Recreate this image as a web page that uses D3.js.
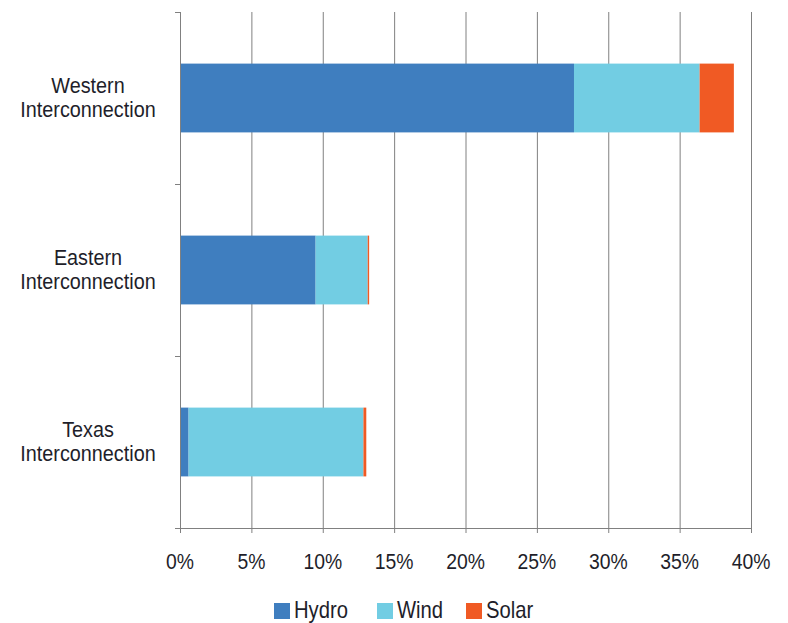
<!DOCTYPE html>
<html><head><meta charset="utf-8">
<script src="https://cdn.jsdelivr.net/npm/d3@7"></script>
<style>body{margin:0;background:#fff}svg{display:block}text{font-family:"Liberation Sans",Arial,sans-serif;fill:#1e1e2a}</style>
</head><body>
<script>
const categories = ["Western Interconnection","Eastern Interconnection","Texas Interconnection"];
const series = ["Hydro","Wind","Solar"];
const hydro = [27.6, 9.5, 0.6];
const wind = [8.8, 3.65, 12.25];
const solar = [2.4, 0.1, 0.2];
const xTicks = [0,5,10,15,20,25,30,35,40];
const colors = ["#3f7ebf","#72cde3","#f05a24"];

const W=788,H=623;
const m={left:180,right:37,top:12,bottom:95};
const SX=0.88;
const svg=d3.select("body").append("svg").attr("width",W).attr("height",H);
const x=d3.scaleLinear().domain([0,40]).range([m.left,W-m.right]);
const y=d3.scaleBand().domain(categories).range([m.top,H-m.bottom]).paddingInner(0.6).paddingOuter(0.3);
const yb=d3.scaleBand().domain(categories).range([m.top,H-m.bottom]);

// gridlines
svg.append("g").selectAll("line").data(xTicks.slice(1)).join("line")
 .attr("x1",d=>x(d)+0.5).attr("x2",d=>x(d)+0.5).attr("y1",m.top).attr("y2",H-m.bottom+5)
 .attr("stroke","#808080").attr("stroke-width",1);

const rows=categories.map((c,i)=>({cat:c,Hydro:hydro[i],Wind:wind[i],Solar:solar[i]}));
const stack=d3.stack().keys(series)(rows);
svg.append("g").selectAll("g").data(stack).join("g").attr("fill",(d,i)=>colors[i])
 .selectAll("rect").data(d=>d).join("rect")
 .attr("x",d=>x(d[0])).attr("width",d=>x(d[1])-x(d[0]))
 .attr("y",d=>y(d.data.cat)).attr("height",y.bandwidth());

// y axis
const ax=svg.append("g").attr("stroke","#808080").attr("stroke-width",1);
ax.append("line").attr("x1",m.left+0.5).attr("x2",m.left+0.5).attr("y1",m.top).attr("y2",H-m.bottom+5);
const sep=categories.map(c=>yb(c)).concat([H-m.bottom]);
ax.selectAll("line.t").data(sep).join("line").attr("class","t")
 .attr("x1",m.left-5).attr("x2",m.left+0.5).attr("y1",d=>Math.round(d)+0.5).attr("y2",d=>Math.round(d)+0.5);
// x axis
ax.append("line").attr("x1",m.left-5).attr("x2",x(40)+0.5).attr("y1",H-m.bottom+0.5).attr("y2",H-m.bottom+0.5);

svg.append("g").selectAll("text").data(xTicks).join("text")
 .attr("transform",d=>`translate(${x(d)},${H-m.bottom+41}) scale(${SX},1)`)
 .attr("text-anchor","middle").attr("font-size",22).text(d=>d+"%");

// category labels
const lab=svg.append("g").selectAll("text").data(categories).join("text")
 .attr("text-anchor","middle").attr("font-size",22.5)
 .attr("transform",c=>`translate(88,${y(c)+y.bandwidth()/2}) scale(${SX},1)`);
lab.each(function(c){
  const parts=c.split(" ");
  const t=d3.select(this);
  t.append("tspan").attr("x",0).attr("y",-5).text(parts[0]);
  t.append("tspan").attr("x",0).attr("y",19).text(parts[1]);
});

// legend
const lx=[274,377,466];
const lg=svg.append("g").selectAll("g").data(series).join("g")
 .attr("transform",(d,i)=>`translate(${lx[i]},603)`);
lg.append("rect").attr("width",16).attr("height",16).attr("fill",(d,i)=>colors[i]);
lg.append("text").attr("transform",`translate(20,15) scale(${SX},1)`).attr("font-size",23).text(d=>d);
</script>
</body></html>
